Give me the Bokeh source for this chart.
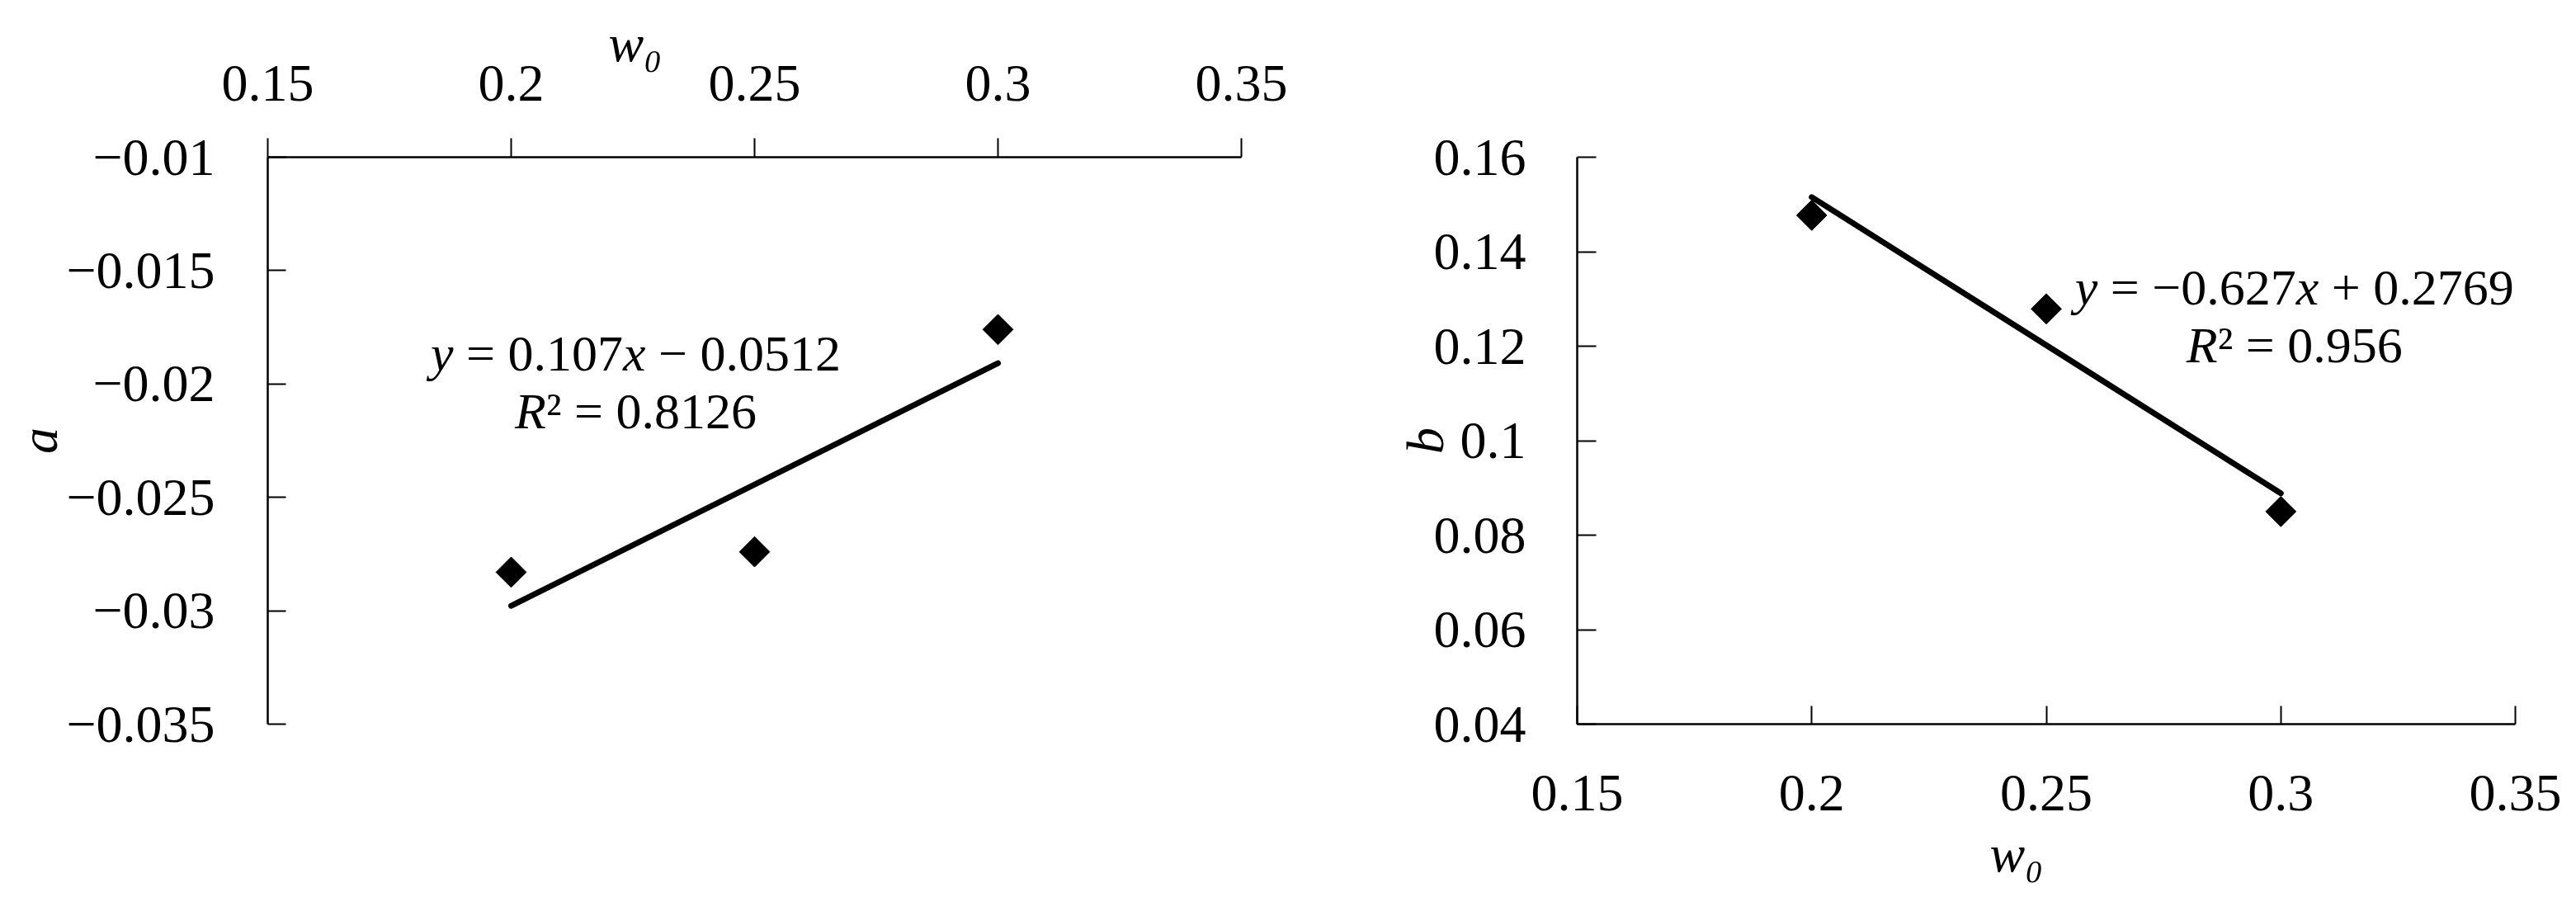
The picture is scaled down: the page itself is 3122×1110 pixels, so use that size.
import numpy as np
from bokeh.plotting import figure
from bokeh.layouts import row
from bokeh.models import FixedTicker, CustomJSTickFormatter, Range1d, Label
from bokeh.embed import file_html
from bokeh.resources import INLINE

# ---------------- data ----------------
w0 = [0.2, 0.25, 0.3]
a_vals = [-0.0283, -0.0274, -0.0176]
b_vals = [0.1477, 0.1279, 0.0850]

x_ticks = [0.15, 0.2, 0.25, 0.3, 0.35]
a_ticks = [-0.035, -0.03, -0.025, -0.02, -0.015, -0.01]
b_ticks = [0.04, 0.06, 0.08, 0.1, 0.12, 0.14, 0.16]

x_label = "w₀"
a_label = "a"
b_label = "b"

a_eq = [("y", "italic"), (" = 0.107", "normal"), ("x", "italic"), (" − 0.0512", "normal")]
a_r2 = [("R", "italic"), ("² = 0.8126", "normal")]
b_eq = [("y", "italic"), (" = −0.627", "normal"), ("x", "italic"), (" + 0.2769", "normal")]
b_r2 = [("R", "italic"), ("² = 0.956", "normal")]

# ---------------- style ----------------
FONT = "Liberation Serif"
EQ_FS = 62
TICK_FS = "64px"
LABEL_FS = "64px"

# Times / Liberation Serif advance widths (em)
W = {str(d): 0.5 for d in range(10)}
W.update({".": 0.25, " ": 0.25, "=": 0.564, "−": 0.564, "+": 0.564,
          "y": 0.444, "x": 0.444, "R": 0.611, "²": 0.3})


def add_equation(p, lines, cx, baselines, fs):
    for parts, yb in zip(lines, baselines):
        total = sum(sum(W.get(c, 0.5) for c in t) for t, _ in parts) * fs
        off = -total / 2
        for t, st in parts:
            lead = len(t) - len(t.lstrip(" "))
            off += lead * W[" "] * fs
            s = t.strip(" ")
            p.add_layout(Label(x=cx, y=yb, text=s, x_offset=off, text_align="left",
                               text_baseline="alphabetic", text_font=FONT,
                               text_font_style=st, text_font_size=f"{fs}px",
                               text_color="black"))
            off += sum(W.get(c, 0.5) for c in s) * fs


def set_xtitle(p, offset, standoff):
    t = p.title
    t.text = x_label
    t.align = "left"
    t.offset = offset
    t.standoff = standoff
    t.text_font = FONT
    t.text_font_style = "italic"
    t.text_font_size = LABEL_FS
    t.text_color = "black"


fmt = CustomJSTickFormatter(code="return String(tick).replace('-', '\u2212');")


def style_axis(ax, tick_in, tick_out, standoff, label_standoff):
    ax.axis_line_color = "black"
    ax.axis_line_width = 2.5
    ax.major_tick_line_color = "black"
    ax.major_tick_line_width = 2
    ax.major_tick_in = tick_in
    ax.major_tick_out = tick_out
    ax.minor_tick_line_color = None
    ax.major_label_standoff = standoff
    ax.major_label_text_font = FONT
    ax.major_label_text_font_size = TICK_FS
    ax.major_label_text_color = "black"
    ax.axis_label_text_font = FONT
    ax.axis_label_text_font_style = "italic"
    ax.axis_label_text_font_size = LABEL_FS
    ax.axis_label_text_color = "black"
    ax.axis_label_standoff = label_standoff
    ax.formatter = fmt


def base_fig(**kw):
    p = figure(output_backend="svg", toolbar_location=None, **kw)
    p.outline_line_color = None
    p.xgrid.grid_line_color = None
    p.ygrid.grid_line_color = None
    p.background_fill_color = "white"
    p.border_fill_color = "white"
    return p


# ---------------- left chart (a) ----------------
p1 = base_fig(width=1600, height=1094,
              x_range=Range1d(x_ticks[0], x_ticks[-1]),
              y_range=Range1d(a_ticks[0], a_ticks[-1]),
              x_axis_location="above", title_location="above",
              min_border_left=324, min_border_right=96,
              min_border_top=190, min_border_bottom=54)
p1.xaxis.ticker = FixedTicker(ticks=x_ticks)
p1.yaxis.ticker = FixedTicker(ticks=a_ticks)
p1.yaxis.axis_label = a_label
style_axis(p1.xaxis[0], 0, 23, 46, 0)
style_axis(p1.yaxis[0], 22, 0, 64, -6)
set_xtitle(p1, 413, -22)

ka, ca = np.polyfit(w0, a_vals, 1)
xf = [min(w0), max(w0)]
p1.line(xf, [ka * v + ca for v in xf], line_color="black", line_width=7, line_cap="round")
p1.scatter(w0, a_vals, marker="square", size=26, angle=45, angle_units="deg",
           fill_color="black", line_color="black")
add_equation(p1, [a_eq, a_r2], 0.2256, [-0.01865, -0.02118], EQ_FS)

# ---------------- right chart (b) ----------------
p2 = base_fig(width=1506, height=1094,
              x_range=Range1d(x_ticks[0], x_ticks[-1]),
              y_range=Range1d(b_ticks[0], b_ticks[-1]),
              title_location="below",
              min_border_left=311, min_border_right=58,
              min_border_top=43, min_border_bottom=217)
p2.xaxis.ticker = FixedTicker(ticks=x_ticks)
p2.yaxis.ticker = FixedTicker(ticks=b_ticks)
p2.yaxis.axis_label = b_label
style_axis(p2.xaxis[0], 22, 0, 62, 30)
style_axis(p2.yaxis[0], 23, 0, 62, -28)
set_xtitle(p2, 500, 24)

kb, cb = np.polyfit(w0, b_vals, 1)
p2.line(xf, [kb * v + cb for v in xf], line_color="black", line_width=7, line_cap="round")
p2.scatter(w0, b_vals, marker="square", size=26, angle=45, angle_units="deg",
           fill_color="black", line_color="black")
add_equation(p2, [b_eq, b_r2], 0.3029, [0.13252, 0.12029], EQ_FS)

layout = row(p1, p2)
open("out.html", "w").write(file_html(layout, INLINE))
